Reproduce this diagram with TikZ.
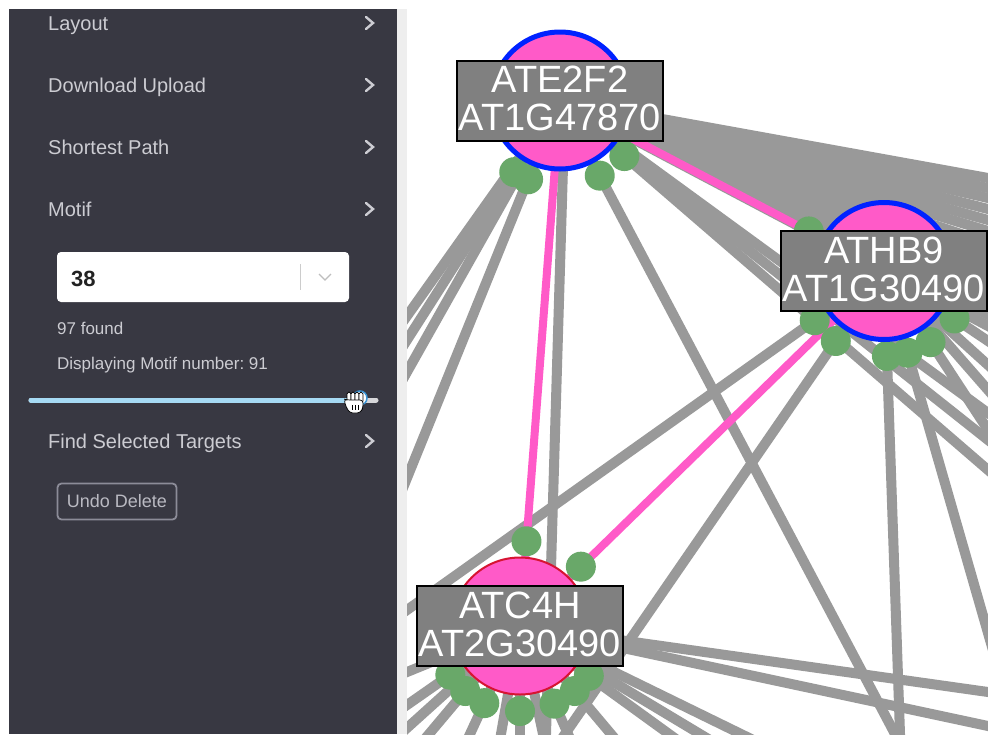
\documentclass[tikz,border=0pt]{standalone}
\usepackage{fontspec}
\setmainfont{Liberation Sans}
\usetikzlibrary{calc}
\frenchspacing

\definecolor{panelbg}{RGB}{56,56,66}
\definecolor{paneltext}{RGB}{204,204,210}
\definecolor{btntext}{RGB}{186,186,194}
\definecolor{btnborder}{RGB}{140,140,152}
\definecolor{stripgray}{RGB}{238,238,238}
\definecolor{darktext}{RGB}{34,34,34}
\definecolor{seplight}{RGB}{204,204,204}
\definecolor{chevlight}{RGB}{190,190,190}
\definecolor{sliderblue}{RGB}{166,218,244}
\definecolor{slidergray}{RGB}{215,215,218}
\definecolor{knobblue}{RGB}{60,150,215}
\definecolor{edgegray}{RGB}{153,153,153}
\definecolor{edgepink}{RGB}{255,90,200}
\definecolor{nodepink}{RGB}{255,90,200}
\definecolor{nodeblue}{RGB}{0,34,255}
\definecolor{nodered}{RGB}{215,20,50}
\definecolor{arrowgreen}{RGB}{105,168,105}
\definecolor{labelgray}{RGB}{128,128,128}

\pgfdeclarelayer{canvas}
\pgfdeclarelayer{edges}
\pgfdeclarelayer{arrowheads}
\pgfsetlayers{canvas,edges,arrowheads,main}

\begin{document}
\begin{tikzpicture}[x=1pt,y=-1pt,
  menuitem/.style={anchor=base west, inner sep=0pt, text=paneltext, font=\fontsize{20pt}{24pt}\selectfont},
  smalltext/.style={anchor=base west, inner sep=0pt, text=paneltext, font=\fontsize{17pt}{20pt}\selectfont},
  chevron/.style={draw=paneltext, line width=2.4pt, line cap=round, line join=miter},
  gnode/.style={circle, minimum size=137pt, inner sep=0pt, fill=nodepink, line width=5pt, draw=nodeblue},
  glabel/.style={rectangle, draw=black, line width=2pt, fill=labelgray, minimum width=206pt, minimum height=80pt, inner sep=0pt, align=center, text=white, font=\fontsize{38pt}{38pt}\selectfont, text depth=4.5pt},
  gedge/.style={draw=edgegray, line width=10pt, shorten >=-40pt},
  pedge/.style={draw=edgepink, line width=8pt},
  headdot/.style={fill=arrowgreen},
]
\useasboundingbox (0,0) rectangle (988,734);

\begin{pgfonlayer}{canvas}
  \fill[white] (0,0) rectangle (988,734);
\end{pgfonlayer}

% ---------------- side panel ----------------
\fill[panelbg] (9,9) rectangle (397,734);
\fill[stripgray] (397,9) rectangle (407,734);

\node[menuitem] (mLayout)   at (48,30)  {Layout};
\node[menuitem] (mDownload) at (48,92)  {Download Upload};
\node[menuitem] (mShortest) at (48,154) {Shortest Path};
\node[menuitem] (mMotif)    at (48,216) {Motif};
\node[menuitem] (mFind)     at (48,448) {Find Selected Targets};
\foreach \cy in {23,85,147,209,441}
  \draw[chevron] (366,\cy-6) -- (373,\cy) -- (366,\cy+6);

% motif selector
\node[fill=white, rounded corners=4pt, minimum width=292pt, minimum height=50pt, inner sep=0pt] (motifBox) at (203,277) {};
\node[anchor=base west, inner sep=0pt, text=darktext, font=\fontsize{22pt}{24pt}\selectfont\bfseries] (motifValue) at (71,286) {38};
\draw[seplight, line width=1pt] (300,264) -- (300,290);
\draw[chevlight, line width=1.3pt] (319,274) -- (325,280) -- (331,274);

\node[smalltext] (foundText) at (57,334) {97 found};
\node[smalltext] (dispText)  at (57,369) {Displaying Motif number: 91};

% slider
\draw[slidergray, line width=5pt, line cap=round] (31,400) -- (376,400);
\draw[sliderblue, line width=5pt, line cap=round] (31,400) -- (356,400);
\draw[knobblue, line width=1.5pt, fill=white] (360,398) circle[radius=7pt];
% grab cursor over the knob
\begin{scope}[shift={(343,391)}]
  \foreach \fx in {4,8,12,16}
    \draw[fill=white, line width=0.7pt, rounded corners=1.8pt] (\fx,1) rectangle (\fx+4,12);
  \draw[fill=white, line width=0.7pt, rounded corners=3pt] (1,8) -- (4,9) -- (20,9) -- (20,17) -- (17,22) -- (7,22) -- (3,16) -- cycle;
  \draw[line width=0.6pt] (9,14) -- (9,19) (12,14) -- (12,19) (15,14) -- (15,19);
\end{scope}

\node[draw=btnborder, line width=1.8pt, rounded corners=4pt, minimum width=119pt, minimum height=36pt, inner sep=0pt, text=btntext, font=\fontsize{18pt}{21pt}\selectfont] (undoBtn) at (117,501.5) {Undo Delete};

% ---------------- network ----------------
\node[gnode] (E) at (560,100.5) {};
\node[gnode] (H) at (884,271) {};
\node[gnode, draw=nodered, line width=2pt] (C) at (520,626) {};

\node[glabel] (Elbl) at (E) {ATE2F2\\AT1G47870};
\node[glabel] (Hlbl) at (H) {ATHB9\\AT1G30490};
\node[glabel] (Clbl) at (C) {ATC4H\\AT2G30490};

% neighbours lying outside the view
\coordinate (eW1) at (407,316);
\coordinate (eW2) at (407,340);
\coordinate (eW3) at (407,372);
\coordinate (eW4) at (407,478);
\coordinate (eS1) at (546,734);
\coordinate (eS2) at (895,734);
\coordinate (eD1) at (988,413);
\coordinate (eD2) at (988,440);
\coordinate (eD3) at (988,470);

\coordinate (hW)  at (407,610);
\coordinate (hS1) at (565,734);
\coordinate (hS2) at (900,734);
\coordinate (hR1) at (988,633);
\coordinate (hR2) at (988,430);
\coordinate (hR3) at (988,341);
\coordinate (hR4) at (988,365);
\coordinate (hR5) at (988,390);

\coordinate (cA1) at (407,672);
\coordinate (cA2) at (407,705);
\coordinate (cA3) at (407,728);
\coordinate (cA4) at (429,734);
\coordinate (cA5) at (470,734);
\coordinate (cA6) at (501,734);
\coordinate (cA7) at (520,734);
\coordinate (cA8) at (543,734);
\coordinate (cA9) at (568,734);
\coordinate (cB1) at (611,734);
\coordinate (cB2) at (669,734);
\coordinate (cB3) at (700,734);
\coordinate (cB4) at (741,734);
\coordinate (cB7) at (988,726);
\coordinate (cB8) at (988,692);

\begin{pgfonlayer}{edges}
\begin{scope}
  \clip (407,0) rectangle (988,734);
  % fan of ATE2F2 links leaving to the right
  \foreach \ry [count=\k] in {178,188,198,209,220,231,243,255,267,279,291,303,315,326}
    \coordinate (eR\k) at (988,\ry);
  \foreach \k in {1,...,14}
    \draw[gedge] (E.center) -- (eR\k);
  \foreach \t in {eW1,eW2,eW3,eW4,eS2,eD1,eD2,eD3}
    \draw[gedge] (E.center) -- (\t);
  \draw[gedge] ([xshift=5pt]E.center) -- (eS1);
  \foreach \t in {hW,hS1,hS2,hR1,hR2,hR3,hR4,hR5}
    \draw[gedge] (H.center) -- (\t);
  \foreach \t in {cA1,cA2,cA3,cA4,cA5,cA6,cA7,cA8,cA9,cB1,cB2,cB3,cB4,cB7,cB8}
    \draw[gedge] (C.center) -- (\t);
  \draw[pedge] (E.center) -- (H.center);
  \draw[pedge] (E.center) -- (C.center);
  \draw[pedge] (H.center) -- (C.center);
\end{scope}
\end{pgfonlayer}

\begin{pgfonlayer}{arrowheads}
  \foreach \t in {eW2,eW4,eS2,eD3}
    \fill[headdot] ($(E)!85pt!(\t)$) circle[radius=15pt];
  \foreach \t in {E,hW,hS1,hS2,hR1,hR2,hR3}
    \fill[headdot] ($(H)!85pt!(\t)$) circle[radius=15pt];
  \foreach \t in {E,H,cA2,cA4,cA5,cA7,cA9,cB1,cB2}
    \fill[headdot] ($(C)!85pt!(\t)$) circle[radius=15pt];
\end{pgfonlayer}

\end{tikzpicture}
\end{document}
